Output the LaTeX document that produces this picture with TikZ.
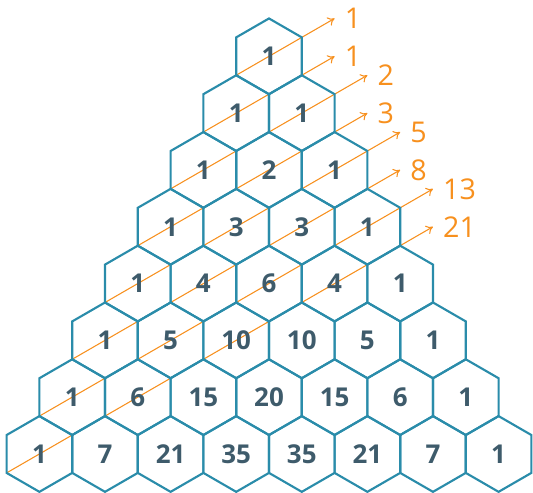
\documentclass[tikz,border=0pt]{standalone}
\usepackage{fontspec}
\setmainfont{Open Sans}
\usetikzlibrary{arrows.meta,shapes.geometric,backgrounds}

\definecolor{hexblue}{HTML}{2A8CAA}
\definecolor{numgray}{HTML}{3E5B6B}
\definecolor{fiborange}{HTML}{F7901E}

\begin{document}
\begin{tikzpicture}[>={To[length=5pt,width=7pt]},
  hexcell/.style={regular polygon, regular polygon sides=6, shape border rotate=30,
    minimum size=2cm, inner sep=0pt, outer sep=0pt, draw=hexblue, line width=1.6pt,
    text=numgray, font=\bfseries\fontsize{19.5}{22}\selectfont},
  diag/.style={->, draw=fiborange, line width=0.8pt},
  fib/.style={anchor=west, inner sep=0pt, xshift=7.5pt, text=fiborange,
    font=\fontsize{21.5}{24}\selectfont}]
  \useasboundingbox (-7.103,-11.505) rectangle (6.971,1.487);

  % 杨辉三角
  \foreach \vals [count=\r] in {{1},{1,1},{1,2,1},{1,3,3,1},{1,4,6,4,1},
      {1,5,10,10,5,1},{1,6,15,20,15,6,1},{1,7,21,35,35,21,7,1}}
    \foreach \v [count=\k] in \vals
      \node[hexcell] (h-\r-\k) at ({(\k-(\r+1)/2)*sqrt(3)}, {-1.5*(\r-1)}) {\v};

  % 斜线与斐波那契数
  \begin{scope}[on background layer]
    \foreach \r/\len/\num in {1/1.5/1, 2/2/1, 3/3/2, 4/3.5/3, 5/4.5/5, 6/5/8, 7/6/13, 8/6.5/21} {
      \path (h-\r-1.210) ++(30:{2*\len}) coordinate (t-\r);
      \draw[diag] (h-\r-1.210) -- (t-\r);
    }
  \end{scope}
  \foreach \r/\num in {1/1, 2/1, 3/2, 4/3, 5/5, 6/8, 7/13, 8/21}
    \node[fib] (f-\r) at (t-\r) {\num};
\end{tikzpicture}
\end{document}
